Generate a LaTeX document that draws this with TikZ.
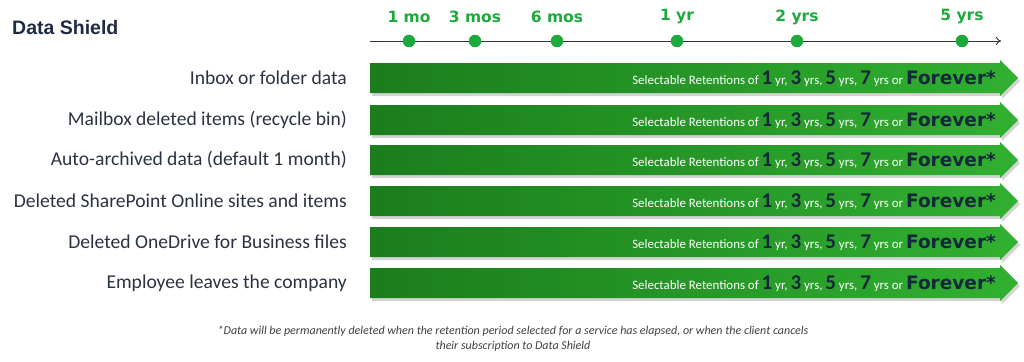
\documentclass[tikz,border=0pt]{standalone}
\usepackage{fontspec}
\setmainfont{Carlito}
\newfontfamily\headfont{Liberation Sans}
\newfontfamily\tickfont{DejaVu Sans}
\usetikzlibrary{shadows,arrows.meta}

\definecolor{shieldnavy}{HTML}{1F2A44}
\definecolor{tickgreen}{HTML}{1DAA3C}
\definecolor{bardark}{HTML}{1B7D1D}
\definecolor{barlight}{HTML}{31B031}
\definecolor{labgray}{HTML}{2B3340}
\definecolor{numdark}{HTML}{13283A}
\definecolor{notegray}{HTML}{404040}

\newcommand{\retnum}[1]{{\bfseries\fontsize{21}{21}\selectfont\color{numdark}#1}}
\newcommand{\retaintext}{Selectable Retentions of \retnum{1} yr, \retnum{3} yrs,
  \retnum{5} yrs, \retnum{7} yrs or
  {\tickfont\bfseries\fontsize{18.5}{18}\selectfont\color{numdark}Forever*}}

\tikzset{
  dot/.style={circle,fill=tickgreen,inner sep=0pt,minimum size=12.5pt},
  ticklab/.style={font=\tickfont\bfseries\fontsize{15.5}{15}\selectfont,text=tickgreen},
  rowlab/.style={font=\fontsize{19.6}{20}\selectfont,text=labgray,anchor=east,inner sep=0pt},
  bar/.style={left color=bardark,right color=barlight,
    drop shadow={opacity=0.35,shadow xshift=2pt,shadow yshift=-3pt}},
  retain/.style={font=\fontsize{12.9}{14}\selectfont,text=white,anchor=east,inner sep=0pt}
}

\begin{document}
\begin{tikzpicture}[x=1pt,y=-1pt]
  \useasboundingbox (0,0) rectangle (1024,361);
  % title
  \node[font=\headfont\bfseries\fontsize{19.5}{20}\selectfont,text=shieldnavy,
    anchor=west,inner sep=0pt] (title) at (12,28) {Data Shield};
  % time line
  \coordinate (tstart) at (370,41);
  \coordinate (tend) at (1001,41);
  \draw[black!80,line width=0.9pt,-{To[length=5pt,width=8pt]}] (tstart) -- (tend);
  \foreach \x/\lab [count=\i] in {409/1 mo,475/3 mos,557/6 mos,677/1 yr,797/2 yrs,962/5 yrs}{
    \node[dot] (d\i) at (\x,41) {};
    \node[ticklab] (t\i) at (\x,17) {\lab};
  }
  % rows
  \foreach \y/\txt [count=\i] in {78/{Inbox or folder data},
      120/{Mailbox deleted items (recycle bin)},
      160/{Auto-archived data (default 1 month)},
      201/{Deleted SharePoint Online sites and items},
      242/{Deleted OneDrive for Business files},
      283/{Employee leaves the company}}{
    \node[rowlab] (l\i) at (347,\y) {\txt};
    \path[bar] (370,{\y-15}) -- (1000,{\y-15}) -- (1000,{\y-18}) -- (1018,\y)
      -- (1000,{\y+18}) -- (1000,{\y+15}) -- (370,{\y+15}) -- cycle;
    \node[retain] (r\i) at (996,{\y+1}) {\retaintext};
  }
  % footnote
  \node[font=\itshape\fontsize{12}{15}\selectfont,text=notegray,align=center]
    (note) at (513,339) {*Data will be permanently deleted when the retention period selected for a service has elapsed, or when the client cancels\\
    their subscription to Data Shield};
\end{tikzpicture}
\end{document}
